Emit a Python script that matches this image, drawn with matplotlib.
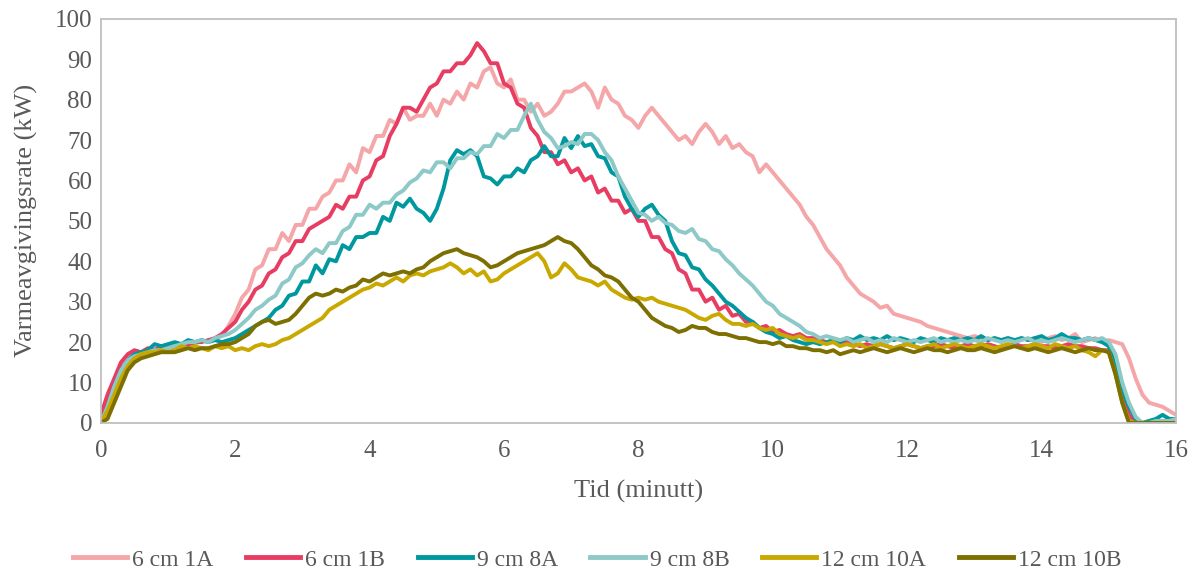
import numpy as np
import matplotlib
matplotlib.use("Agg")
import matplotlib.pyplot as plt

# time axis: 0.0 .. 16.0 minutes in 0.1 minute steps
t = [round(i * 0.1, 1) for i in range(161)]

s_1A = [1, 5, 10, 14, 16.5, 17.5, 17, 18, 18.5, 18,
        19, 18.5, 19.5, 20, 19.5, 20.5, 20, 21, 21.5, 24,
        27, 31, 33, 38, 39, 43, 43, 47, 45, 49,
        49, 53, 53, 56, 57, 60, 60, 64, 62, 68,
        67, 71, 71, 75, 74, 78, 75, 76, 76, 79,
        76, 80, 79, 82, 80, 84, 83, 87, 88, 84,
        83, 85, 80, 80, 77, 79, 76, 77, 79, 82,
        82, 83, 84, 82, 78, 83, 80, 79, 76, 75,
        73, 76, 78, 76, 74, 72, 70, 71, 69, 72,
        74, 72, 69, 71, 68, 69, 67, 66, 62, 64,
        62, 60, 58, 56, 54, 51, 49, 46, 43, 41,
        39, 36, 34, 32, 31, 30, 28.5, 29, 27, 26.5,
        26, 25.5, 25, 24, 23.5, 23, 22.5, 22, 21.5, 21,
        21.5, 21, 20.5, 21, 20.5, 21, 20, 21, 20.5, 21,
        20, 21, 21.5, 20.5, 21, 22, 20, 20.5, 21, 20,
        20.5, 20, 19.5, 16, 11, 7, 5, 4.5, 4, 3,
        2]

s_1B = [2, 7, 11, 15, 17, 18, 17.5, 18.5, 18, 19,
        18.5, 19, 19.5, 19, 20, 20, 20.5, 21, 22, 23.5,
        25, 28, 30, 33, 34, 37, 38, 41, 42, 45,
        45, 48, 49, 50, 51, 54, 53, 56, 56, 60,
        61, 65, 66, 71, 74, 78, 78, 77, 80, 83,
        84, 87, 87, 89, 89, 91, 94, 92, 89, 89,
        84, 83, 79, 78, 73, 71, 67, 67, 64, 65,
        62, 63, 60, 61, 57, 58, 55, 55, 52, 53,
        50, 50, 46, 46, 43, 42, 38, 37, 33, 33,
        30, 31, 28, 29, 26.5, 27, 25, 25, 23.5, 24,
        22.5, 23, 22, 21.5, 22, 21, 21, 20.5, 20, 20,
        19.5, 20, 19.5, 19, 19.5, 19, 19.5, 19, 18.5, 19,
        19.5, 19, 18.5, 19, 19, 19.5, 19, 18.5, 19, 19.5,
        19, 19, 19.5, 19, 18.5, 19, 19.5, 19, 19, 19.5,
        19, 19, 18.5, 19, 19.5, 19, 19, 18.5, 18.5, 18,
        18, 14, 8, 2, 0, 0, 0, 0, 0, 0,
        0]

s_8A = [0, 4, 9, 13, 15.5, 17, 17.5, 18, 19.5, 19,
        19.5, 20, 19.5, 20.5, 20, 20.5, 20, 20.5, 20, 20.5,
        21, 22, 23, 24, 25, 26, 28, 29, 31.5, 32,
        35, 35, 39, 37, 40.5, 40, 44, 43, 46, 46,
        47, 47, 51, 50, 54.5, 53.5, 55.5, 53, 52, 50,
        53, 58, 65, 67.5, 66.5, 67.5, 66, 61, 60.5, 59,
        61, 61, 63, 62, 65, 66, 68.5, 66, 66, 70.5,
        68, 71, 68.5, 69, 66, 65.5, 62, 61, 56, 53,
        51, 53, 54, 51.5, 50, 45, 42, 41.5, 38.5, 38,
        35.5, 34, 32, 30, 29, 27.5, 26, 25, 23.5, 22.5,
        22, 21, 21.5, 20.5, 20, 19.5, 20, 19.5, 20, 20.5,
        20, 21, 20.5, 21.5, 20.5, 21, 20.5, 21.5, 20.5, 21,
        20.5, 20, 21, 20.5, 20, 21, 20.5, 21, 20.5, 21,
        20.5, 21.5, 20.5, 21, 20.5, 21, 20.5, 21, 20.5, 21,
        21.5, 20.5, 21, 22, 21, 21, 20.5, 21, 20.5, 20,
        19, 14, 8, 4, 1, 0, 0.5, 1, 2, 1,
        1]

s_8B = [0, 4, 9, 13, 15.5, 16.5, 17, 17.5, 18, 18,
        18.5, 19, 19.5, 20, 20, 20.5, 20, 21, 21.5, 22,
        23, 24.5, 26, 28, 29, 30.5, 31.5, 34.5, 35.5, 38.5,
        39.5, 41.5, 43, 42, 44.5, 44.5, 47.5, 48.5, 51.5, 51.5,
        54, 53, 54.5, 54.5, 56.5, 57.5, 59.5, 60.5, 62.5, 62,
        64.5, 64.5, 63, 65.5, 65.5, 67, 66.5, 68.5, 68.5, 71.5,
        70.5, 72.5, 72.5, 76, 79, 75, 72, 70.5, 68, 68.5,
        69.5, 69, 71.5, 71.5, 70, 67, 65, 61, 58, 55,
        52, 51.5, 50, 51, 49.5, 49, 47.5, 47, 48, 45.5,
        45, 43, 42.5, 40.5, 39, 37, 35.5, 34, 32, 30,
        29, 27, 26, 25, 24, 22.5, 22, 21, 21.5, 21,
        20.5, 21, 20, 20.5, 21, 20, 20.5, 20, 21, 20.5,
        20, 20.5, 20, 20.5, 21, 20, 20.5, 20, 20.5, 20,
        20.5, 20, 21, 20.5, 20, 20.5, 20, 20.5, 21, 20,
        20.5, 20, 20.5, 21, 20.5, 20, 20.5, 21, 20.5, 21,
        20, 17, 10, 5, 1.5, 0, 0, 0.5, 0.5, 0.5,
        1]

s_10A = [0, 3, 7, 11, 14, 16, 17, 17.5, 17.5, 18,
         17.5, 18, 19, 18.5, 19, 18.5, 18, 19, 18.5, 19,
         18, 18.5, 18, 19, 19.5, 19, 19.5, 20.5, 21, 22,
         23, 24, 25, 26, 28, 29, 30, 31, 32, 33,
         33.5, 34.5, 34, 35, 36, 35, 36.5, 37, 36.5, 37.5,
         38, 38.5, 39.5, 38.5, 37, 38, 36.5, 37.5, 35, 35.5,
         37, 38, 39, 40, 41, 42, 40, 36, 37, 39.5,
         38, 36, 35.5, 35, 34, 35, 33, 32, 31, 30.5,
         31, 30.5, 31, 30, 29.5, 29, 28.5, 28, 27, 26,
         25.5, 26.5, 27, 25.5, 24.5, 24.5, 24, 24.5, 23.5, 23,
         23.5, 22, 21.5, 21, 21.5, 20.5, 20.5, 20, 19.5, 20,
         19, 19.5, 19, 19.5, 18.5, 19, 19.5, 19, 18.5, 19,
         19.5, 19, 18.5, 19, 19.5, 18.5, 19, 19.5, 19, 18.5,
         19, 19.5, 19, 18.5, 19, 19.5, 19, 18.5, 19, 19.5,
         19, 18.5, 19.5, 19, 18.5, 19, 18, 17.5, 16.5, 18,
         17.5, 12, 5, 0.5, 0, 0, 0, 0, 0, 0,
         0]

s_10B = [0, 1, 5, 9, 13, 15, 16, 16.5, 17, 17.5,
         17.5, 17.5, 18, 18.5, 18, 18.5, 18.5, 19, 19.5, 19.5,
         20, 21, 22, 24, 25, 25.5, 24.5, 25, 25.5, 27,
         29, 31, 32, 31.5, 32, 33, 32.5, 33.5, 34, 35.5,
         35, 36, 37, 36.5, 37, 37.5, 37, 38, 38.5, 40,
         41, 42, 42.5, 43, 42, 41.5, 41, 40, 38.5, 39,
         40, 41, 42, 42.5, 43, 43.5, 44, 45, 46, 45,
         44.5, 43, 41, 39, 38, 36.5, 36, 35, 33, 31,
         30, 28, 26, 25, 24, 23.5, 22.5, 23, 24, 23.5,
         23.5, 22.5, 22, 22, 21.5, 21, 21, 20.5, 20, 20,
         19.5, 20, 19, 19, 18.5, 18.5, 18, 18, 17.5, 18,
         17, 17.5, 18, 17.5, 18, 18.5, 18, 17.5, 18, 18.5,
         18, 17.5, 18, 18.5, 18, 18, 17.5, 18, 18.5, 18,
         18, 18.5, 18, 17.5, 18, 18.5, 19, 18.5, 18, 18.5,
         18, 17.5, 18, 18.5, 18, 17.5, 18, 18.5, 18, 18,
         17.5, 12, 5, 0, 0, 0, 0, 0, 0, 0,
         0]

labels = ["6 cm 1A", "6 cm 1B", "9 cm 8A", "9 cm 8B", "12 cm 10A", "12 cm 10B"]
series = [s_1A, s_1B, s_8A, s_8B, s_10A, s_10B]
colors = ["#F4A6A8", "#E83D63", "#00989F", "#8CC9C7", "#C9A800", "#7D6F00"]

x_ticks = [0, 2, 4, 6, 8, 10, 12, 14, 16]
y_ticks = [0, 10, 20, 30, 40, 50, 60, 70, 80, 90, 100]

plt.rcParams['font.family'] = ['Liberation Serif', 'DejaVu Serif']
text_color = "#595959"

fig = plt.figure(figsize=(12, 5.7), dpi=100)
ax = fig.add_axes([0.084, 0.258, 0.896, 0.709])

for s, lab, c in zip(series, labels, colors):
    ax.plot(t, s, color=c, lw=2.8, label=lab, solid_joinstyle='round')

ax.set_xlim(0, 16)
ax.set_ylim(0, 100)
ax.set_xticks(x_ticks)
ax.set_yticks(y_ticks)
ax.tick_params(length=0, labelsize=18, colors=text_color)
ax.tick_params(axis='x', pad=12)
ax.tick_params(axis='y', pad=6)
for sp in ax.spines.values():
    sp.set_color("#BFBFBF")
    sp.set_linewidth(1.3)

ax.set_xlabel("Tid (minutt)", fontsize=19, color=text_color, labelpad=13)
ax.set_ylabel("Varmeavgivingsrate (kW)", fontsize=19, color=text_color, labelpad=12)

leg = fig.legend(loc='center', bbox_to_anchor=(0.4975, 0.018), ncol=6, frameon=False,
                 fontsize=17, handlelength=2.3, handletextpad=0.2, columnspacing=1.39)
for txt in leg.get_texts():
    txt.set_color(text_color)
for h in leg.legend_handles:
    h.set_linewidth(3.5)

fig.savefig("out.png", dpi=100)
